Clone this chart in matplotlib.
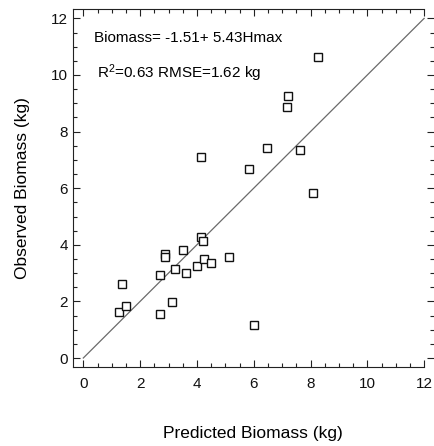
import matplotlib
matplotlib.use("Agg")
import matplotlib.pyplot as plt
from matplotlib.ticker import MultipleLocator

plt.rcParams['font.family'] = ['Liberation Sans', 'DejaVu Sans']
plt.rcParams['mathtext.fontset'] = 'custom'
plt.rcParams['mathtext.rm'] = 'Liberation Sans'
plt.rcParams['mathtext.it'] = 'Liberation Sans'

predicted = [1.35, 1.27, 1.50, 2.70, 2.70, 2.88, 2.88, 3.23, 3.12, 3.52, 3.61,
             4.01, 4.14, 4.23, 4.26, 4.49, 5.12, 6.02, 4.14, 8.27, 7.22, 7.18,
             6.48, 7.63, 5.82, 8.10]
observed = [2.60, 1.64, 1.84, 2.93, 1.54, 3.67, 3.56, 3.14, 1.98, 3.83, 3.01,
            3.25, 4.26, 4.13, 3.49, 3.35, 3.56, 1.17, 7.09, 10.63, 9.26, 8.86,
            7.43, 7.36, 6.69, 5.84]
line_xy = [0, 12]
major_ticks = [0, 2, 4, 6, 8, 10, 12]
eq_text = "Biomass= -1.51+ 5.43Hmax"
stat_text = r"R$^{2}$=0.63 RMSE=1.62 kg"

W, H = 434, 446
fig = plt.figure(figsize=(W / 100, H / 100), dpi=100)
left, right, top, bottom = 72.5, 434, 9.3, 366.7
ax = fig.add_axes([left / W, 1 - bottom / H, (right - left) / W, (bottom - top) / H])

# pixel mapping: x=0 at 83.3, 28.4 px/unit; y=0 at 358, 28.3 px/unit
x0, sx = 83.3, 28.4
y0, sy = 358.0, 28.3
ax.set_xlim((left - x0) / sx, (right - x0) / sx)
ax.set_ylim((y0 - bottom) / sy, (y0 - top) / sy)

ax.plot(line_xy, line_xy, color='#6a6a6a', lw=0.9, zorder=2)
ax.plot(predicted, observed, linestyle='none', marker='s', ms=5.4, mfc='white',
        mec='#111111', mew=1.0, zorder=3)

ax.set_xticks(major_ticks)
ax.set_yticks(major_ticks)
ax.xaxis.set_minor_locator(MultipleLocator(0.5))
ax.yaxis.set_minor_locator(MultipleLocator(0.5))
ax.tick_params(axis='both', which='major', direction='in', length=5, width=0.8,
               labelsize=11, top=True, right=True, color='#222222',
               labelcolor='#111111')
ax.tick_params(axis='both', which='minor', direction='in', length=2.6, width=0.8,
               top=True, right=True, color='#222222')
ax.tick_params(axis='x', which='major', pad=7.5)
ax.tick_params(axis='y', which='major', pad=3.5)

xmax_b = 12.0
ax.spines['right'].set_visible(False)
ax.spines['top'].set_bounds(ax.get_xlim()[0], xmax_b)
ax.spines['bottom'].set_bounds(ax.get_xlim()[0], xmax_b)
for s in ['left', 'top', 'bottom']:
    ax.spines[s].set_linewidth(0.8)
    ax.spines[s].set_color('#222222')

ax.set_xlabel("Predicted Biomass (kg)", fontsize=12.5, labelpad=25)
ax.set_ylabel("Observed Biomass (kg)", fontsize=12.5, labelpad=15)

ax.text((94 - x0) / sx, (y0 - 38) / sy, eq_text, fontsize=11, va='center', ha='left')
ax.text((97 - x0) / sx, (y0 - 73) / sy, stat_text, fontsize=11, va='center', ha='left')

fig.savefig("out.png", dpi=100)
